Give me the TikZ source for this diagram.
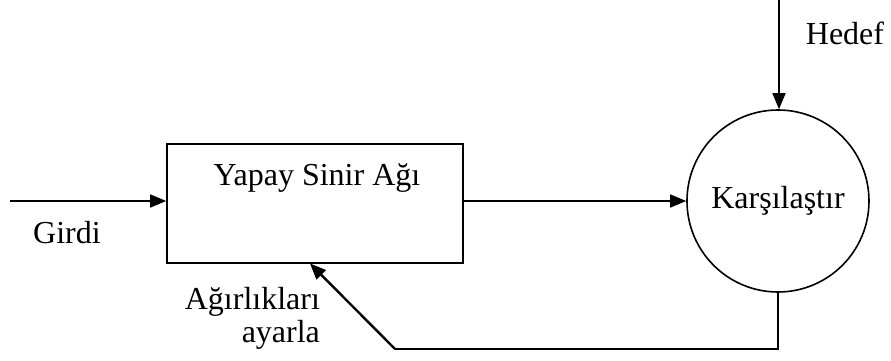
\documentclass[tikz,border=0pt]{standalone}
\usepackage{fontspec}
\setmainfont{Liberation Serif}
\usetikzlibrary{arrows.meta,positioning}

\tikzset{
  flow/.style={line width=0.8pt,-{Triangle[length=8pt,width=6.5pt]}},
  blok/.style={draw,line width=0.8pt,rectangle,minimum width=148pt,minimum height=59.5pt,inner sep=0pt},
  daire/.style={draw,line width=0.8pt,circle,minimum size=91pt,inner sep=0pt},
  yazi/.style={font=\fontsize{16}{16.5}\selectfont}
}

\begin{document}
\begin{tikzpicture}[x=0.5pt,y=-0.5pt]
  \useasboundingbox (0,0) rectangle (891,360);

  %% blocks
  \node[blok] (ysa) at (315,203.5) {};
  \node[yazi] (ysayazi) at (317,178) {Yapay Sinir Ağı};
  \node[daire,yazi] (kars) at (778,201) {Karşılaştır};

  % free ends
  \coordinate (girdi) at (10,201);
  \coordinate (hedef) at (779,0);
  \coordinate (donus) at (395,349);

  %% connectors
  \draw[flow] (girdi) -- (girdi -| ysa.west);
  \draw[flow] (ysa.east |- kars.west) -- (kars.west);
  \draw[flow] (hedef) -- (hedef |- kars.north);
  \draw[line width=0.8pt] (kars.south) |- (donus);
  \draw[flow,line width=1.2pt] (donus) -- (310,263.5);

  %% labels
  \node[yazi] (girdiyazi) at (67,233) {Girdi};
  \node[yazi] (hedefyazi) at (845,33) {Hedef};
  \node[yazi,align=right,anchor=east] (ayaryazi) at (327,318) {Ağırlıkları\\ayarla};
\end{tikzpicture}
\end{document}
